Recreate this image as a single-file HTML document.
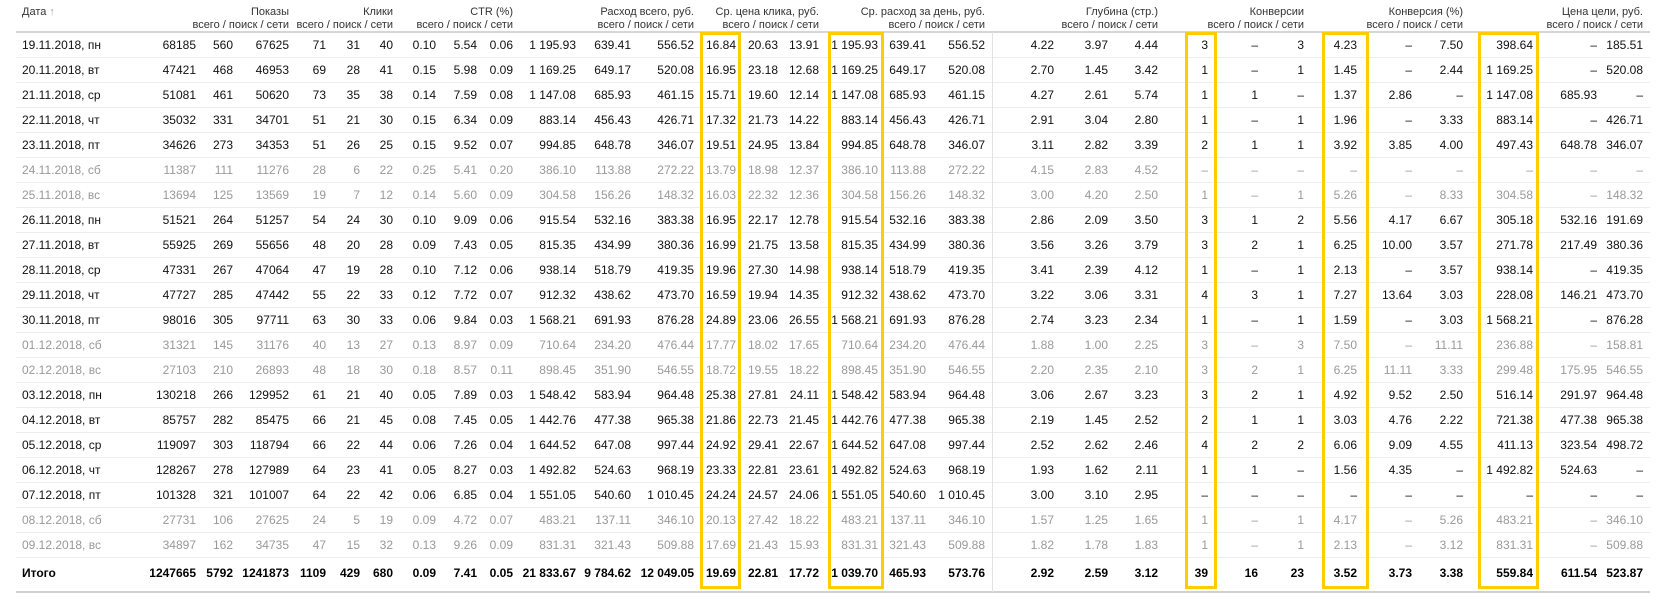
<!DOCTYPE html>
<html><head><meta charset="utf-8">
<style>
body{margin:0;width:1657px;height:598px;background:#fff;overflow:hidden;font-family:"Liberation Sans","Noto Sans CJK SC",sans-serif;position:relative}
.c{position:absolute;font-size:12px;line-height:14px;white-space:nowrap;color:#111}
.g{color:#999}
.b{font-weight:bold;color:#000}
.h{position:absolute;font-size:11px;line-height:12px;white-space:nowrap;color:#333}
.hl{position:absolute;height:1px;background:#ececec;left:16px;width:1634px}
.box{position:absolute;border:3px solid #ffcc00;box-sizing:border-box;top:32px;height:557px}
</style></head>
<body>
<div id="t"></div>
<script>
const headerTitles = ["Показы","Клики","CTR (%)","Расход всего, руб.","Ср. цена клика, руб.","Ср. расход за день, руб.","Глубина (стр.)","Конверсии","Конверсия (%)","Цена цели, руб."];
const headerNames = ["shows","clicks","ctr","expense","avg-cpc","avg-daily-expense","depth","conversions","conversion-rate","goal-cost"];
const rows = [
"19.11.2018, пн|68185|560|67625|71|31|40|0.10|5.54|0.06|1 195.93|639.41|556.52|16.84|20.63|13.91|1 195.93|639.41|556.52|4.22|3.97|4.44|3|–|3|4.23|–|7.50|398.64|–|185.51",
"20.11.2018, вт|47421|468|46953|69|28|41|0.15|5.98|0.09|1 169.25|649.17|520.08|16.95|23.18|12.68|1 169.25|649.17|520.08|2.70|1.45|3.42|1|–|1|1.45|–|2.44|1 169.25|–|520.08",
"21.11.2018, ср|51081|461|50620|73|35|38|0.14|7.59|0.08|1 147.08|685.93|461.15|15.71|19.60|12.14|1 147.08|685.93|461.15|4.27|2.61|5.74|1|1|–|1.37|2.86|–|1 147.08|685.93|–",
"22.11.2018, чт|35032|331|34701|51|21|30|0.15|6.34|0.09|883.14|456.43|426.71|17.32|21.73|14.22|883.14|456.43|426.71|2.91|3.04|2.80|1|–|1|1.96|–|3.33|883.14|–|426.71",
"23.11.2018, пт|34626|273|34353|51|26|25|0.15|9.52|0.07|994.85|648.78|346.07|19.51|24.95|13.84|994.85|648.78|346.07|3.11|2.82|3.39|2|1|1|3.92|3.85|4.00|497.43|648.78|346.07",
"24.11.2018, сб|11387|111|11276|28|6|22|0.25|5.41|0.20|386.10|113.88|272.22|13.79|18.98|12.37|386.10|113.88|272.22|4.15|2.83|4.52|–|–|–|–|–|–|–|–|–",
"25.11.2018, вс|13694|125|13569|19|7|12|0.14|5.60|0.09|304.58|156.26|148.32|16.03|22.32|12.36|304.58|156.26|148.32|3.00|4.20|2.50|1|–|1|5.26|–|8.33|304.58|–|148.32",
"26.11.2018, пн|51521|264|51257|54|24|30|0.10|9.09|0.06|915.54|532.16|383.38|16.95|22.17|12.78|915.54|532.16|383.38|2.86|2.09|3.50|3|1|2|5.56|4.17|6.67|305.18|532.16|191.69",
"27.11.2018, вт|55925|269|55656|48|20|28|0.09|7.43|0.05|815.35|434.99|380.36|16.99|21.75|13.58|815.35|434.99|380.36|3.56|3.26|3.79|3|2|1|6.25|10.00|3.57|271.78|217.49|380.36",
"28.11.2018, ср|47331|267|47064|47|19|28|0.10|7.12|0.06|938.14|518.79|419.35|19.96|27.30|14.98|938.14|518.79|419.35|3.41|2.39|4.12|1|–|1|2.13|–|3.57|938.14|–|419.35",
"29.11.2018, чт|47727|285|47442|55|22|33|0.12|7.72|0.07|912.32|438.62|473.70|16.59|19.94|14.35|912.32|438.62|473.70|3.22|3.06|3.31|4|3|1|7.27|13.64|3.03|228.08|146.21|473.70",
"30.11.2018, пт|98016|305|97711|63|30|33|0.06|9.84|0.03|1 568.21|691.93|876.28|24.89|23.06|26.55|1 568.21|691.93|876.28|2.74|3.23|2.34|1|–|1|1.59|–|3.03|1 568.21|–|876.28",
"01.12.2018, сб|31321|145|31176|40|13|27|0.13|8.97|0.09|710.64|234.20|476.44|17.77|18.02|17.65|710.64|234.20|476.44|1.88|1.00|2.25|3|–|3|7.50|–|11.11|236.88|–|158.81",
"02.12.2018, вс|27103|210|26893|48|18|30|0.18|8.57|0.11|898.45|351.90|546.55|18.72|19.55|18.22|898.45|351.90|546.55|2.20|2.35|2.10|3|2|1|6.25|11.11|3.33|299.48|175.95|546.55",
"03.12.2018, пн|130218|266|129952|61|21|40|0.05|7.89|0.03|1 548.42|583.94|964.48|25.38|27.81|24.11|1 548.42|583.94|964.48|3.06|2.67|3.23|3|2|1|4.92|9.52|2.50|516.14|291.97|964.48",
"04.12.2018, вт|85757|282|85475|66|21|45|0.08|7.45|0.05|1 442.76|477.38|965.38|21.86|22.73|21.45|1 442.76|477.38|965.38|2.19|1.45|2.52|2|1|1|3.03|4.76|2.22|721.38|477.38|965.38",
"05.12.2018, ср|119097|303|118794|66|22|44|0.06|7.26|0.04|1 644.52|647.08|997.44|24.92|29.41|22.67|1 644.52|647.08|997.44|2.52|2.62|2.46|4|2|2|6.06|9.09|4.55|411.13|323.54|498.72",
"06.12.2018, чт|128267|278|127989|64|23|41|0.05|8.27|0.03|1 492.82|524.63|968.19|23.33|22.81|23.61|1 492.82|524.63|968.19|1.93|1.62|2.11|1|1|–|1.56|4.35|–|1 492.82|524.63|–",
"07.12.2018, пт|101328|321|101007|64|22|42|0.06|6.85|0.04|1 551.05|540.60|1 010.45|24.24|24.57|24.06|1 551.05|540.60|1 010.45|3.00|3.10|2.95|–|–|–|–|–|–|–|–|–",
"08.12.2018, сб|27731|106|27625|24|5|19|0.09|4.72|0.07|483.21|137.11|346.10|20.13|27.42|18.22|483.21|137.11|346.10|1.57|1.25|1.65|1|–|1|4.17|–|5.26|483.21|–|346.10",
"09.12.2018, вс|34897|162|34735|47|15|32|0.13|9.26|0.09|831.31|321.43|509.88|17.69|21.43|15.93|831.31|321.43|509.88|1.82|1.78|1.83|1|–|1|2.13|–|3.12|831.31|–|509.88"
];
const totals = "Итого|1247665|5792|1241873|1109|429|680|0.09|7.41|0.05|21 833.67|9 784.62|12 049.05|19.69|22.81|17.72|1 039.70|465.93|573.76|2.92|2.59|3.12|39|16|23|3.52|3.73|3.38|559.84|611.54|523.87";

const colRight=[196,233,289,326,360,393,436,477,513,576,631,694,736,778,819,878,926,985,1054,1108,1158,1208,1258,1304,1357,1412,1463,1533,1597,1643];
const t=document.getElementById('t');
function add(cls,txt,left,right,top){
  const d=document.createElement('div');
  d.className=cls;d.textContent=txt;
  if(right!=null)d.style.right=(1657-right)+'px';else d.style.left=left+'px';
  d.style.top=top+'px';
  t.appendChild(d);return d;
}
// header
let h=add('h','Дата ',22,null,6);


const ar=document.createElement('span');ar.textContent='↑';ar.style.color='#aaa';h.appendChild(ar);
headerTitles.forEach((ti,i)=>{
  const r=colRight[i*3+2];
  const a=add('h',ti,null,r,6);
  
  
  const b=add('h','всего / поиск / сети',null,r,19);
  
  
});
// lines
function line(top,hgt,col){const l=document.createElement('div');l.className='hl';l.style.top=top+'px';l.style.height=hgt+'px';l.style.background=col;t.appendChild(l);return l;}
let hl=line(31,2,'#d6d6d6');


rows.forEach((r,i)=>{
  const f=r.split('|');
  const gray=/сб|вс/.test(f[0]);
  const y=32+25*i;
  if(i>0){const l=line(y,1,'#ededed');
    
    }
  const cls='c'+(gray?' g':'');
  const d=add(cls,f[0],22,null,y+6);
  
  
  for(let k=1;k<f.length;k++){
    const e=add(cls,f[k],null,colRight[k-1],y+6);
    
    
  }
});
let tl=line(557,1,'#ededed');


const tf=totals.split('|');
let td=add('c b',tf[0],22,null,566);


for(let k=1;k<tf.length;k++){
  const e=add('c b',tf[k],null,colRight[k-1],566);
  
  
}
let bl=line(591,2,'#d0d0d0');


// vertical separator
const vs=document.createElement('div');
vs.style.cssText='position:absolute;left:992px;top:32px;width:1px;height:560px;background:#e2e2e2';


t.appendChild(vs);
// highlight boxes
const boxes=[[700,741,'avg-cpc-highlight'],[828,884,'avg-daily-expense-highlight'],[1185,1217,'conversions-highlight'],[1322,1369,'conversion-rate-highlight'],[1478,1539,'goal-cost-highlight']];
boxes.forEach(b=>{
  const d=document.createElement('div');
  d.className='box';d.style.left=b[0]+'px';d.style.width=(b[1]-b[0])+'px';
  
  
  t.appendChild(d);
});
</script>
</body></html>
